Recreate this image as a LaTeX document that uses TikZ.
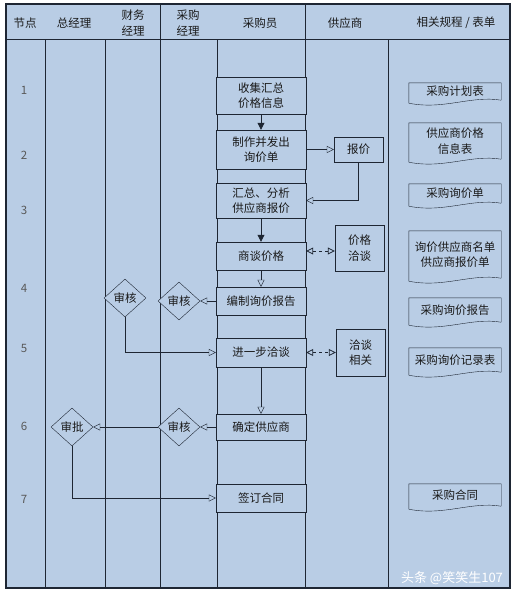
\documentclass[tikz,border=0pt]{standalone}
\usepackage{fontspec}
\setmainfont{Noto Sans CJK SC}
\usetikzlibrary{arrows.meta}
\usetikzlibrary{shapes.geometric}
\definecolor{bgblue}{HTML}{B9CDE5}
\definecolor{linec}{HTML}{1E2633}
\definecolor{txt}{HTML}{1A1A1A}
\newcommand{\fs}{\fontsize{11.5}{15.5}\selectfont}

\begin{document}
\begin{tikzpicture}[x=1pt, y=-1pt, >=Stealth,
    proc/.style={draw=linec, fill=bgblue, minimum width=90pt, align=center, inner sep=1pt, font=\fs, text=txt},
    supbox/.style={draw=linec, fill=bgblue, minimum width=49pt, align=center, inner sep=1pt, font=\fs, text=txt},
    check/.style={diamond, draw=linec, fill=bgblue, minimum width=42pt, minimum height=38pt, inner sep=0pt, font=\fs, text=txt},
    docbox/.style={minimum width=92pt, align=center, inner sep=1pt, font=\fs, text=txt},
    head/.style={align=center, font=\fs, text=txt},
    num/.style={font=\fs, text=black!65},
    fillarrow/.style={draw=linec, thick, -{Triangle[length=7pt, width=7pt]}},
    hollow/.style={draw=linec, -{Triangle[open, length=7pt, width=7pt]}},
    dashpair/.style={draw=linec, thick, dashed, {Triangle[open, length=7pt, width=7pt]}-{Triangle[open, length=7pt, width=7pt]}}
  ]
        \useasboundingbox (0,0) rectangle (515,597);
        \fill[bgblue] (6,4) rectangle (510,588);

        % lanes
        \draw[linec] (6,39) -- (510,39);
        \foreach \x in {45,105,217,388}
          \draw[linec] (\x,39) -- (\x,588);
        \foreach \x in {160,305}
          \draw[linec, thick] (\x,4) -- (\x,588);
        \draw[linec, line width=1.6pt] (6,4) rectangle (510,588);

        % header
        \node[head] (h0) at (25,23) {节点};
        \node[head] (h1) at (74,23) {总经理};
        \node[head] (h2) at (133,23) {财务\\经理};
        \node[head] (h3) at (188,23) {采购\\经理};
        \node[head] (h4) at (260,23) {采购员};
        \node[head] (h5) at (345,23) {供应商};
        \node[head] (h6) at (456,23) {相关规程 / 表单};

        % step numbers
        \node[num] (n1) at (24,90) {1};
        \node[num] (n2) at (24,155) {2};
        \node[num] (n3) at (24,210) {3};
        \node[num] (n4) at (24,288) {4};
        \node[num] (n5) at (24,348) {5};
        \node[num] (n6) at (24,426) {6};
        \node[num] (n7) at (24,499) {7};

        % buyer
        \node[proc, minimum height=37pt] (collect) at (261,95.5) {收集汇总\\价格信息};
        \node[proc, minimum height=39pt] (inquire) at (261,149.5) {制作并发出\\询价单};
        \node[proc, minimum height=35pt] (sumup) at (261,200.5) {汇总、分析\\供应商报价};
        \node[proc, minimum height=28pt] (bargain) at (261,256) {商谈价格};
        \node[proc, minimum height=28pt] (report) at (261,301) {编制询价报告};
        \node[proc, minimum height=29pt] (further) at (261,352.5) {进一步洽谈};
        \node[proc, minimum height=26pt] (decide) at (261,427) {确定供应商};
        \node[proc, minimum height=28pt] (contract) at (261,498) {签订合同};

        % supplier
        \node[supbox, minimum height=25pt] (quote) at (358.5,149.5) {报价};
        \node[supbox, minimum height=46pt] (pricetalk) at (359.5,248) {价格\\洽谈};
        \node[supbox, minimum height=47pt] (talkrel) at (360.5,352.5) {洽谈\\相关};

        % managers
        \node[check] (chkfin) at (125,298) {审核};
        \node[check] (chkbuy) at (179,301) {审核};
        \node[check] (chkdec) at (179,427) {审核};
        \node[check] (approve) at (72,427) {审批};

        % forms
        \node[docbox, minimum height=17pt] (d1) at (455,91.5) {采购计划表};
        \node[docbox, minimum height=36pt] (d2) at (455,141) {供应商价格\\信息表};
        \node[docbox, minimum height=19pt] (d3) at (455,193.5) {采购询价单};
        \node[docbox, minimum height=47pt] (d4) at (455,254.5) {询价供应商名单\\供应商报价单};
        \node[docbox, minimum height=24pt] (d5) at (455,310) {采购询价报告};
        \node[docbox, minimum height=24pt] (d6) at (455,360) {采购询价记录表};
        \node[docbox, minimum height=22pt] (d7) at (455,495) {采购合同};
        \foreach \d in {d1,d2,d3,d4,d5,d6,d7}
          \draw[linec] (\d.south east) -- (\d.north east) -- (\d.north west) -- ([shift={(0,3)}]\d.south west)
            .. controls +(35,7) and +(-30,-5) .. (\d.south east);

        % flow
        \draw[fillarrow] (collect) -- (inquire);
        \draw[hollow] (inquire) -- (quote);
        \draw[hollow] (quote.south) |- (sumup.east);
        \draw[fillarrow] (sumup) -- (bargain);
        \draw[dashpair] (bargain.east |- 0,251) -- (pricetalk.west |- 0,251);
        \draw[hollow] (bargain) -- (report);
        \draw[hollow] (report) -- (chkbuy);
        \draw[hollow] (chkfin.south) |- (further.west);
        \draw[dashpair] (further) -- (talkrel);
        \draw[hollow] (further) -- (decide);
        \draw[hollow] (decide) -- (chkdec);
        \draw[hollow] (chkdec) -- (approve);
        \draw[hollow] (approve.south) |- (contract.west);

        \node[font=\fontsize{13}{15}\selectfont, text=white] (mark) at (452,578) {头条 @笑笑生107};
      \end{tikzpicture}
\end{document}
